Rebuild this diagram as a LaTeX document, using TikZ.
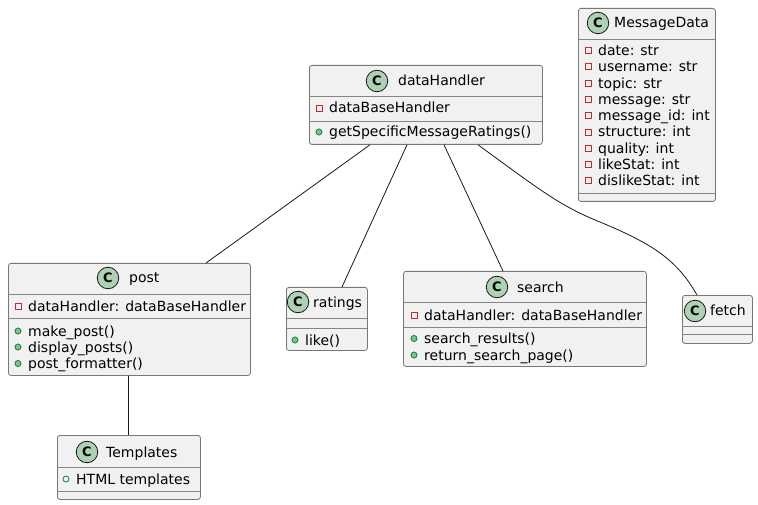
\documentclass[tikz,border=0pt]{standalone}
\usepackage{fontspec}
\setmainfont{DejaVu Sans}
\definecolor{umlfill}{HTML}{F1F1F1}
\definecolor{umlborder}{HTML}{777777}
\definecolor{umlsep}{HTML}{858585}
\definecolor{umlline}{HTML}{181818}
\definecolor{iconfill}{HTML}{ADD1B2}
\definecolor{privred}{HTML}{C82930}
\definecolor{pubgreen}{HTML}{038048}
\definecolor{pubfill}{HTML}{84BE84}
\tikzset{
  classbox/.style={draw=umlborder, fill=umlfill, line width=0.8pt, rounded corners=2.5pt,
                   inner sep=0pt, anchor=north west},
  sepline/.style={draw=umlsep, line width=0.8pt},
  cicon/.style={circle, draw=umlline, fill=iconfill, line width=0.8pt, minimum size=21.5pt,
                inner sep=0pt, font=\fontsize{13}{13}\selectfont\bfseries},
  cname/.style={anchor=base west, inner sep=0pt, font=\fontsize{14}{16}\selectfont},
  member/.style={anchor=base west, inner sep=0pt, font=\fontsize{14}{16}\selectfont},
  privmark/.style={draw=privred, line width=0.8pt},
  pubmeth/.style={draw=pubgreen, fill=pubfill, line width=0.6pt},
  pubfield/.style={draw=pubgreen, line width=0.8pt},
  assoc/.style={draw=umlline, line width=0.8pt}
}
% private member: name, icon x, y, text
\newcommand{\umlpriv}[4]{%
  \draw[privmark] (#2-3,#3-3) rectangle (#2+3,#3+3);
  \node[member] (#1) at (#2+10,#3+5) {#4};}
% public method: name, icon x, y, text
\newcommand{\umlmeth}[4]{%
  \fill[pubmeth] (#2,#3) circle (3);
  \draw[pubmeth] (#2,#3) circle (3);
  \node[member] (#1) at (#2+10,#3+5) {#4};}
% public field: name, icon x, y, text
\newcommand{\umlfield}[4]{%
  \draw[pubfield] (#2,#3) circle (3);
  \node[member] (#1) at (#2+10,#3+5) {#4};}
\begin{document}
\begin{tikzpicture}[x=1pt,y=-1pt]
\useasboundingbox (0,0) rectangle (758,505);

% ---------- dataHandler ----------
\node[classbox, minimum width=233pt, minimum height=79pt] (dh) at (309,65) {};
\node[cicon] (dhC) at (377,81) {C};
\node[cname] (dhName) at (398,86) {dataHandler};
\draw[sepline] (309,96) -- (542,96);
\umlpriv{dhA}{319}{108}{dataBaseHandler}
\draw[sepline] (309,121) -- (542,121);
\umlmeth{dhM}{319}{132}{getSpecificMessageRatings()}

% ---------- MessageData ----------
\node[classbox, minimum width=137pt, minimum height=193pt] (md) at (578,8) {};
\node[cicon] (mdC) at (598,23) {C};
\node[cname] (mdName) at (614,28) {MessageData};
\draw[sepline] (578,39) -- (715,39);
\umlpriv{mdA}{588}{50.5}{date: str}
\umlpriv{mdB}{588}{66.8}{username: str}
\umlpriv{mdC2}{588}{83.1}{topic: str}
\umlpriv{mdD}{588}{99.4}{message: str}
\umlpriv{mdE}{588}{115.7}{message\_id: int}
\umlpriv{mdF}{588}{132}{structure: int}
\umlpriv{mdG}{588}{148.3}{quality: int}
\umlpriv{mdH}{588}{164.6}{likeStat: int}
\umlpriv{mdI}{588}{180.9}{dislikeStat: int}
\draw[sepline] (578,193) -- (715,193);

% ---------- post ----------
\node[classbox, minimum width=242pt, minimum height=112pt] (post) at (8,263) {};
\node[cicon] (postC) at (108,278) {C};
\node[cname] (postName) at (129,283) {post};
\draw[sepline] (8,294) -- (250,294);
\umlpriv{postA}{18}{306}{dataHandler: dataBaseHandler}
\draw[sepline] (8,318) -- (250,318);
\umlmeth{postM1}{18}{331}{make\_post()}
\umlmeth{postM2}{18}{347}{display\_posts()}
\umlmeth{postM3}{18}{363.5}{post\_formatter()}

% ---------- ratings ----------
\node[classbox, minimum width=81pt, minimum height=63pt] (rat) at (286,287) {};
\node[cicon] (ratC) at (298,302) {C};
\node[cname] (ratName) at (313,307) {ratings};
\draw[sepline] (286,318) -- (367,318);
\draw[sepline] (286,328) -- (367,328);
\umlmeth{ratM}{295}{340}{like()}

% ---------- search ----------
\node[classbox, minimum width=243pt, minimum height=95pt] (srch) at (403,271) {};
\node[cicon] (srchC) at (497,287) {C};
\node[cname] (srchName) at (517,292) {search};
\draw[sepline] (403,302) -- (646,302);
\umlpriv{srchA}{414}{315}{dataHandler: dataBaseHandler}
\draw[sepline] (403,327) -- (646,327);
\umlmeth{srchM1}{414}{338.5}{search\_results()}
\umlmeth{srchM2}{414}{355}{return\_search\_page()}

% ---------- fetch ----------
\node[classbox, minimum width=70pt, minimum height=48pt] (fetch) at (682,295) {};
\node[cicon] (fetchC) at (695,311) {C};
\node[cname] (fetchName) at (710,316) {fetch};
\draw[sepline] (682,326) -- (752,326);
\draw[sepline] (682,334) -- (752,334);

% ---------- Templates ----------
\node[classbox, minimum width=143pt, minimum height=64pt] (tpl) at (57,435) {};
\node[cicon] (tplC) at (87,452) {C};
\node[cname] (tplName) at (106,457) {Templates};
\draw[sepline] (57,467) -- (200,467);
\umlfield{tplA}{66}{479}{HTML templates}
\draw[sepline] (57,491) -- (200,491);

% ---------- associations ----------
\draw[assoc] ([xshift=61pt]dh.south west) -- ([xshift=198pt]post.north west);
\draw[assoc] ([xshift=98pt]dh.south west) -- ([xshift=56pt]rat.north west);
\draw[assoc] ([xshift=135pt]dh.south west) -- ([xshift=100pt]srch.north west);
\draw[assoc] ([xshift=169pt]dh.south west)
  .. controls (540,190) and (560,206) .. (600,222)
  .. controls (650,243) and (676,258) .. ([xshift=15pt]fetch.north west);
\draw[assoc] ([xshift=120pt]post.south west) -- ([xshift=71pt]tpl.north west);
\end{tikzpicture}
\end{document}
